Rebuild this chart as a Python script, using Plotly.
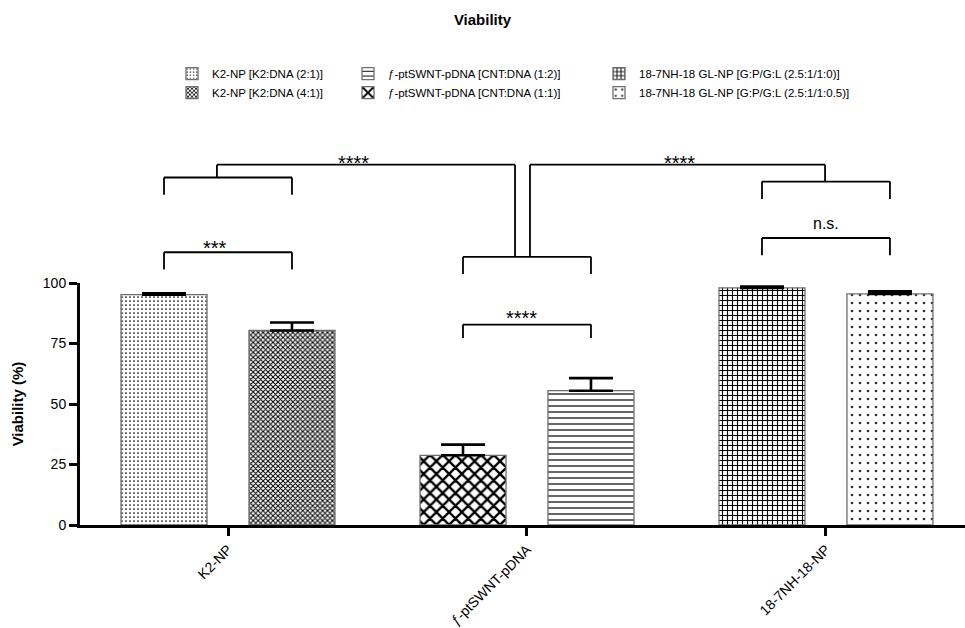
import plotly.graph_objects as go

# ---------------- data ----------------
categories = ["K2-NP", "ƒ-ptSWNT-pDNA", "18-7NH-18-NP"]
series_names = [
    "K2-NP [K2:DNA (2:1)]",
    "K2-NP [K2:DNA (4:1)]",
    "ƒ-ptSWNT-pDNA [CNT:DNA (1:2)]",
    "ƒ-ptSWNT-pDNA [CNT:DNA (1:1)]",
    "18-7NH-18 GL-NP [G:P/G:L (2.5:1/1:0)]",
    "18-7NH-18 GL-NP [G:P/G:L (2.5:1/1:0.5)]",
]
series_category = [0, 0, 1, 1, 2, 2]
series_slot = ["a", "b", "b", "a", "a", "b"]      # left / right bar in each group
series_values = [95.2, 80.4, 55.5, 28.8, 98.0, 95.5]
series_errors = [0.5, 3.3, 5.2, 4.4, 0.5, 1.1]
y_ticks = [0, 25, 50, 75, 100]

# significance brackets: (group, top, leg bottom, label, label height, label x shift)
group_brackets = [
    (0, 143.6, 136.5, None, None, 0),
    (0, 112.7, 105.6, "***", 114.3, -0.045),
    (1, 110.8, 103.7, None, None, 0),
    (1, 82.8, 77.3, "****", 85.7, -0.02),
    (2, 141.9, 134.7, None, None, 0),
    (2, 118.6, 111.5, "n.s.", 124.6, 0.0),
]
# connecting brackets: (x left, x right, top, left leg bottom, right leg bottom, label, label x)
connect_brackets = [
    (-0.037, 0.96, 148.9, 143.6, 110.8, "****", 0.42),
    (1.01, 1.997, 148.9, 110.8, 141.9, "****", 1.51),
]
connect_label_height = 149.6

# ---------------- styles ----------------
FONT = "Liberation Sans, Arial, sans-serif"
patterns = [
    dict(shape=".", size=4, solidity=0.15, fg="black"),
    dict(shape="x", size=3.5, solidity=0.5, fg="black"),
    dict(shape="-", size=6, solidity=0.2, fg="black"),
    dict(shape="x", size=9, solidity=0.45, fg="black"),
    dict(shape="+", size=5, solidity=0.4, fg="black"),
    dict(shape=".", size=8, solidity=0.09, fg="#333333"),
]
legend_of = ["legend", "legend", "legend2", "legend2", "legend3", "legend3"]
legend_rank = [1, 2, 1, 2, 1, 2]

BARGAP = 0.144
SLOT_OFF = (1 - BARGAP) / 4

fig = go.Figure()
for i, name in enumerate(series_names):
    p = patterns[i]
    fig.add_trace(go.Bar(
        x=[categories[series_category[i]]],
        y=[series_values[i]],
        name=name,
        offsetgroup=series_slot[i],
        legend=legend_of[i],
        legendrank=legend_rank[i],
        marker=dict(
            color="white",
            line=dict(color="#6e6e6e", width=1.3),
            pattern=dict(shape=p["shape"], size=p["size"], solidity=p["solidity"],
                         fgcolor=p["fg"], bgcolor="white", fillmode="replace"),
        ),
        error_y=dict(type="data", symmetric=False, array=[series_errors[i]],
                     arrayminus=[0], color="black", thickness=2.6, width=22),
    ))

shapes = []
annotations = []
LW = 1.8
def line(x0, y0, x1, y1):
    shapes.append(dict(type="line", xref="x", yref="paper", x0=x0, x1=x1,
                       y0=y0 / 100.0, y1=y1 / 100.0,
                       line=dict(color="black", width=LW)))

def label(x, y, text):
    size = 20 if text.startswith("*") else 16
    annotations.append(dict(x=x, y=y / 100.0, xref="x", yref="paper",
                            xanchor="center", yanchor="middle",
                            text=text, showarrow=False,
                            font=dict(size=size, color="black", family=FONT)))

for g, top, leg, lab, laby, shift in group_brackets:
    xl, xr = g - SLOT_OFF, g + SLOT_OFF
    line(xl, top, xr, top)
    line(xl, top, xl, leg)
    line(xr, top, xr, leg)
    if lab:
        label(g + shift, laby, lab)

for xl, xr, top, legl, legr, lab, labx in connect_brackets:
    line(xl, top, xr, top)
    line(xl, top, xl, legl)
    line(xr, top, xr, legr)
    label(labx, connect_label_height, lab)

legend_common = dict(orientation="v", font=dict(size=11.5, color="black", family=FONT),
                     bgcolor="rgba(0,0,0,0)", yanchor="top", xanchor="left",
                     tracegroupgap=0, traceorder="normal")

fig.update_layout(
    width=965, height=628,
    margin=dict(l=80, r=0, t=283, b=101),
    paper_bgcolor="white", plot_bgcolor="white",
    barmode="group", bargap=BARGAP, bargroupgap=0.328,
    font=dict(family=FONT, color="black"),
    title=dict(text="<b>Viability</b>", x=0.5, xanchor="center",
               y=1 - 20 / 628, yanchor="middle",
               font=dict(size=15, color="black", family=FONT)),
    xaxis=dict(
        type="category", range=[-0.495, 2.465],
        showline=True, linecolor="black", linewidth=3,
        ticks="outside", ticklen=8, tickwidth=3, tickcolor="black",
        tickangle=-45, tickfont=dict(size=14, color="black", family=FONT),
        showgrid=False, zeroline=False,
    ),
    yaxis=dict(
        range=[0, 100], tickvals=y_ticks,
        showline=True, linecolor="black", linewidth=3,
        ticks="outside", ticklen=8, tickwidth=2.5, tickcolor="black",
        tickfont=dict(size=14, color="black", family=FONT),
        showgrid=False, zeroline=False,
        title=dict(text="<b>Viability (%)</b>", standoff=16,
                   font=dict(size=15, color="black", family=FONT)),
    ),
    legend=dict(x=(172 - 80) / 885, y=1.925, **legend_common),
    legend2=dict(x=(348 - 80) / 885, y=1.925, **legend_common),
    legend3=dict(x=(599 - 80) / 885, y=1.925, **legend_common),
    shapes=shapes,
    annotations=annotations,
)

fig.write_html("out.html")
